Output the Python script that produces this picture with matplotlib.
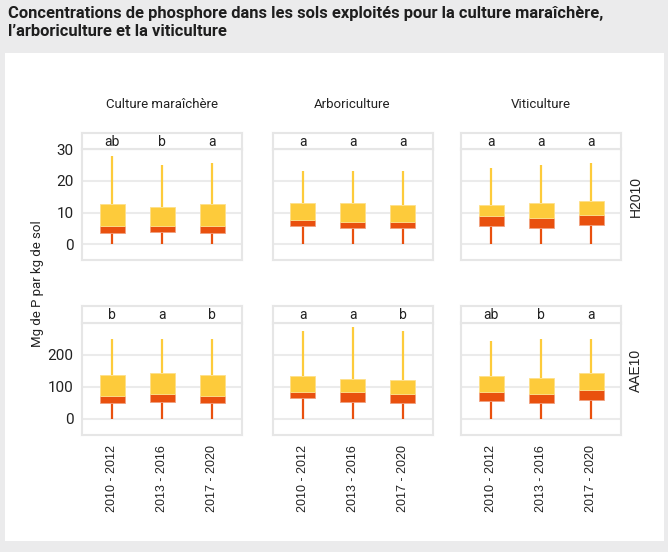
import matplotlib
matplotlib.use("Agg")
import matplotlib.pyplot as plt
from matplotlib.patches import Rectangle

# ---------------- data ----------------
periods = ["2010 - 2012", "2013 - 2016", "2017 - 2020"]
cultures = ["Culture maraîchère", "Arboriculture", "Viticulture"]
methods = ["H2010", "AAE10"]

# H2010 (rows: culture, cols: period)
h_min = [[0, 0, 0], [0, 0, 0], [0, 0, 0]]
h_q1 = [[3.6, 4.0, 3.6], [5.6, 5.1, 5.1], [5.6, 5.1, 6.0]]
h_med = [[5.6, 5.6, 5.6], [7.6, 7.1, 7.1], [8.9, 8.3, 9.1]]
h_q3 = [[12.7, 11.9, 12.7], [13.1, 13.1, 12.5], [12.5, 13.1, 13.6]]
h_max = [[27.8, 25.0, 25.7], [23.1, 23.1, 23.1], [24.0, 25.0, 25.6]]
h_letters = [["ab", "b", "a"], ["a", "a", "a"], ["a", "a", "a"]]

# AAE10
a_min = [[0, 0, 0], [0, 0, 0], [0, 0, 0]]
a_q1 = [[48.7, 51.8, 48.7], [64.2, 52.8, 50.8], [56.0, 48.7, 58.0]]
a_med = [[72.5, 76.7, 72.5], [84.0, 84.0, 76.7], [84.0, 77.7, 90.0]]
a_q3 = [[135.8, 144.0, 136.0], [133.7, 124.4, 120.2], [132.6, 126.4, 144.0]]
a_max = [[247.7, 248.0, 248.0], [272.5, 286.0, 272.5], [241.5, 247.7, 248.0]]
a_letters = [["b", "a", "b"], ["a", "a", "b"], ["ab", "b", "a"]]

h_ticks = [0, 10, 20, 30]
a_ticks = [0, 100, 200]

row_data = [
    (h_min, h_q1, h_med, h_q3, h_max, h_letters, (-5, 30.1), h_ticks),
    (a_min, a_q1, a_med, a_q3, a_max, a_letters, (-50, 298), a_ticks),
]

# ---------------- style ----------------
YELLOW = "#fdcb3b"
ORANGE = "#e9500e"
GRID = "#ebebeb"
BORDER = "#e6e6e6"
BG = "#ebebec"

FT = ["Roboto", "DejaVu Sans"]
FX = ["Liberation Sans", "DejaVu Sans"]

W, H = 668, 552
fig = plt.figure(figsize=(W / 100, H / 100), dpi=100)
fig.patch.set_facecolor(BG)

def fx(x):
    return x / W

def fy(y):
    return 1 - y / H

# white background card
card = fig.add_axes([fx(5), fy(541), fx(664) - fx(5), fy(53) - fy(541)], zorder=-5)
card.set_facecolor("white")
card.set_xticks([])
card.set_yticks([])
for sp in card.spines.values():
    sp.set_visible(False)

fig.text(fx(8), fy(6), "Concentrations de phosphore dans les sols exploités pour la culture maraîchère,\nl\u2019arboriculture et la viticulture",
         ha="left", va="top", fontsize=11.9, fontweight="bold", family=FT,
         color="#1e1e1e", linespacing=1.25)

col_x = [(82, 242), (272.5, 432.5), (461, 621)]
row_y = [((133, 149), (149, 260)), ((306, 323), (323, 435))]

xpos = [1, 2, 3]
bw = 0.5

for r, (vmin, q1, med, q3, vmax, letters, ylim, yt) in enumerate(row_data):
    (s0, s1), (m0, m1) = row_y[r]
    for c in range(3):
        x0, x1 = col_x[c]
        ax = fig.add_axes([fx(x0), fy(m1), fx(x1) - fx(x0), fy(m0) - fy(m1)])
        sx = fig.add_axes([fx(x0), fy(s1), fx(x1) - fx(x0), fy(s0) - fy(s1)])
        for a in (ax, sx):
            a.set_facecolor("white")
            for sp in a.spines.values():
                sp.set_color(BORDER)
                sp.set_linewidth(1.5)
            a.set_xlim(0.4, 3.6)
        sx.set_ylim(0, 1)
        sx.set_xticks([])
        sx.set_yticks([])
        for i in range(3):
            sx.text(xpos[i], 0.45, letters[c][i], ha="center", va="center",
                    fontsize=10, family=FT, color="#222222")

        ax.set_ylim(*ylim)
        ax.set_yticks(yt)
        for t in yt:
            ax.axhline(t, color=GRID, lw=1.5, zorder=0)
        for i in range(3):
            x = xpos[i]
            ax.plot([x, x], [vmin[c][i], q1[c][i]], color=ORANGE, lw=1.6, zorder=2,
                    solid_capstyle="butt")
            ax.plot([x, x], [q3[c][i], vmax[c][i]], color=YELLOW, lw=1.6, zorder=2,
                    solid_capstyle="butt")
            ax.add_patch(Rectangle((x - bw / 2, q1[c][i]), bw, med[c][i] - q1[c][i],
                                   facecolor=ORANGE, edgecolor="#f0a080", lw=0.6, zorder=3))
            ax.add_patch(Rectangle((x - bw / 2, med[c][i]), bw, q3[c][i] - med[c][i],
                                   facecolor=YELLOW, edgecolor="#fde08a", lw=0.6, zorder=3))
        ax.tick_params(axis="both", length=0, pad=6)
        if c == 0:
            ax.set_yticklabels([str(t) for t in yt], fontsize=11, family=FT,
                               color="#222222")
        else:
            ax.set_yticklabels([])
        if r == 1:
            ax.set_xticks(xpos)
            ax.set_xticklabels(periods, rotation=90, fontsize=9, family=FX,
                               color="#222222")
            ax.tick_params(axis="x", pad=7)
        else:
            ax.set_xticks([])
        if r == 0:
            fig.text(fx((x0 + x1) / 2), fy(104), cultures[c], ha="center", va="center",
                     fontsize=9.5, family=FT, color="#222222")
    ycen = 197 if r == 0 else 370
    fig.text(fx(636), fy(ycen), methods[r], rotation=90, ha="center", va="center",
             fontsize=10, family=FX, color="#222222")

fig.text(fx(37), fy(284), "Mg de P par kg de sol", rotation=90, ha="center",
         va="center", fontsize=9.5, family=FT, color="#222222")

fig.savefig("out.png", dpi=100, facecolor=BG)
